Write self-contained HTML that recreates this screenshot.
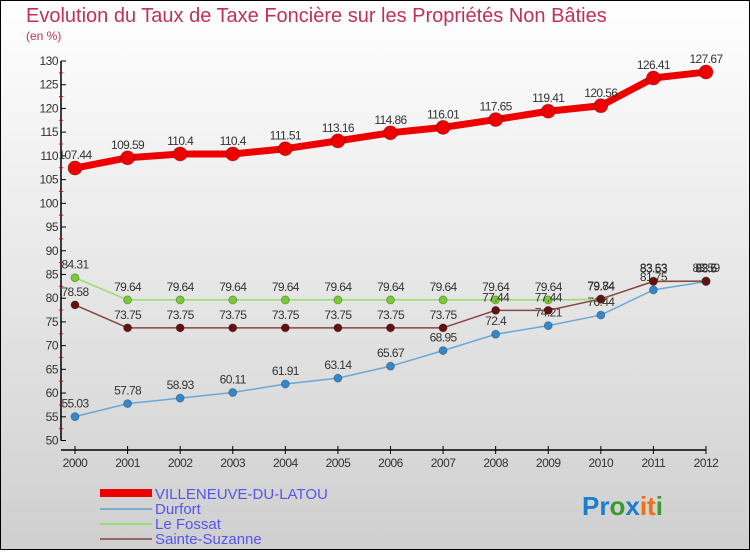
<!DOCTYPE html>
<html><head><meta charset="utf-8"><style>
body{margin:0;width:750px;height:550px;overflow:hidden;font-family:"Liberation Sans",sans-serif}
svg text{font-family:"Liberation Sans",sans-serif}
</style></head><body>
<svg width="750" height="550" xmlns="http://www.w3.org/2000/svg">
<defs><linearGradient id="bg" x1="0" y1="0" x2="0" y2="1"><stop offset="0" stop-color="#ffffff"/><stop offset="1" stop-color="#cfcfcf"/></linearGradient></defs>
<rect x="0.5" y="0.5" width="749" height="549" fill="url(#bg)" stroke="#000"/>
<text x="26" y="22" font-size="20" fill="#c0305a">Evolution du Taux de Taxe Foncière sur les Propriétés Non Bâties</text>
<text x="26" y="40" font-size="12" fill="#c0305a">(en %)</text>
<g id="axes"></g><g id="series"></g>
<g>
<rect x="100" y="489" width="52" height="8" fill="#e00"/>
<text x="155" y="499" font-size="15" fill="#5555ee">VILLENEUVE-DU-LATOU</text>
<rect x="100" y="508" width="52" height="2" fill="#7aaed0"/>
<text x="155" y="514" font-size="15" fill="#5555ee">Durfort</text>
<rect x="100" y="523" width="52" height="2" fill="#99dd77"/>
<text x="155" y="529" font-size="15" fill="#5555ee">Le Fossat</text>
<rect x="100" y="538" width="52" height="2" fill="#996666"/>
<text x="155" y="544" font-size="15" fill="#5555ee">Sainte-Suzanne</text>
</g>
<text x="582" y="515" font-size="26" font-weight="bold"><tspan fill="#1a7fd0">Pr</tspan><tspan fill="#3a9a30">o</tspan><tspan fill="#1a7fd0">x</tspan><tspan fill="#f07010">it</tspan><tspan fill="#3a9a30">i</tspan></text>
</svg>
<script>
const years=[2000,2001,2002,2003,2004,2005,2006,2007,2008,2009,2010,2011,2012];
const yTicks=[50,55,60,65,70,75,80,85,90,95,100,105,110,115,120,125,130];
const villeneuve=[107.44,109.59,110.4,110.4,111.51,113.16,114.86,116.01,117.65,119.41,120.56,126.41,127.67];
const durfort=[55.03,57.78,58.93,60.11,61.91,63.14,65.67,68.95,72.4,74.21,76.44,81.75,83.5];
const leFossat=[84.31,79.64,79.64,79.64,79.64,79.64,79.64,79.64,79.64,79.64,79.74,83.63,83.6];
const sainteSuzanne=[78.58,73.75,73.75,73.75,73.75,73.75,73.75,73.75,77.44,77.44,79.84,83.53,83.59];
const NS="http://www.w3.org/2000/svg";
const X=i=>75+i*(706-75)/12;
const Y=v=>440.5-(v-50)*(379.5/80);
function mk(t,a,p){const e=document.createElementNS(NS,t);for(const k in a)e.setAttribute(k,a[k]);p.appendChild(e);return e;}
const ax=document.getElementById('axes');
const yl=mk('line',{x1:61,y1:Y(130),x2:61,y2:Y(50),stroke:'#000','stroke-width':1.5},ax);


const xl=mk('line',{x1:61,y1:450,x2:706,y2:450,stroke:'#000','stroke-width':1.5},ax);


yTicks.forEach(v=>{
 mk('line',{x1:61,y1:Y(v),x2:66,y2:Y(v),stroke:'#000'},ax);
 if(v<130)mk('line',{x1:59,y1:Y(v+2.5),x2:63,y2:Y(v+2.5),stroke:'#e00'},ax);
 const t=mk('text',{x:58,y:Y(v)+4,'font-size':12,'text-anchor':'end',fill:'#333','letter-spacing':'-0.5'},ax);
 t.textContent=v;
 
 
});
years.forEach((yr,i)=>{
 mk('line',{x1:X(i),y1:446,x2:X(i),y2:454,stroke:'#000'},ax);
 const t=mk('text',{x:X(i),y:467,'font-size':12,'text-anchor':'middle',fill:'#333','letter-spacing':'-0.5'},ax);
 t.textContent=yr;
 
 
});
const sg=document.getElementById('series');
function draw(vals,color,dot,w,r,name){
 const g=mk('g',{},sg);
 
 
 mk('polyline',{points:vals.map((v,i)=>X(i)+','+Y(v)).join(' '),fill:'none',stroke:color,'stroke-width':w,'stroke-linejoin':'round'},g);
 vals.forEach((v,i)=>{
  const c=mk('circle',{cx:X(i),cy:Y(v),r:r,fill:dot,stroke:'#00000044'},g);
  
  
  const t=mk('text',{x:X(i),y:Y(v)-9,'font-size':12,'text-anchor':'middle',fill:'#333','letter-spacing':'-0.6'},g);
  t.textContent=v;
  
  
 });
}
draw(durfort,'#6aa8d8','#3388cc',1.5,4,'series-durfort');
draw(leFossat,'#99dd66','#77cc33',1.5,4,'series-le-fossat');
draw(sainteSuzanne,'#884444','#661111',1.5,4,'series-sainte-suzanne');
draw(villeneuve,'#ee0000','#ee0000',7,7,'series-villeneuve');
</script>
</body></html>
